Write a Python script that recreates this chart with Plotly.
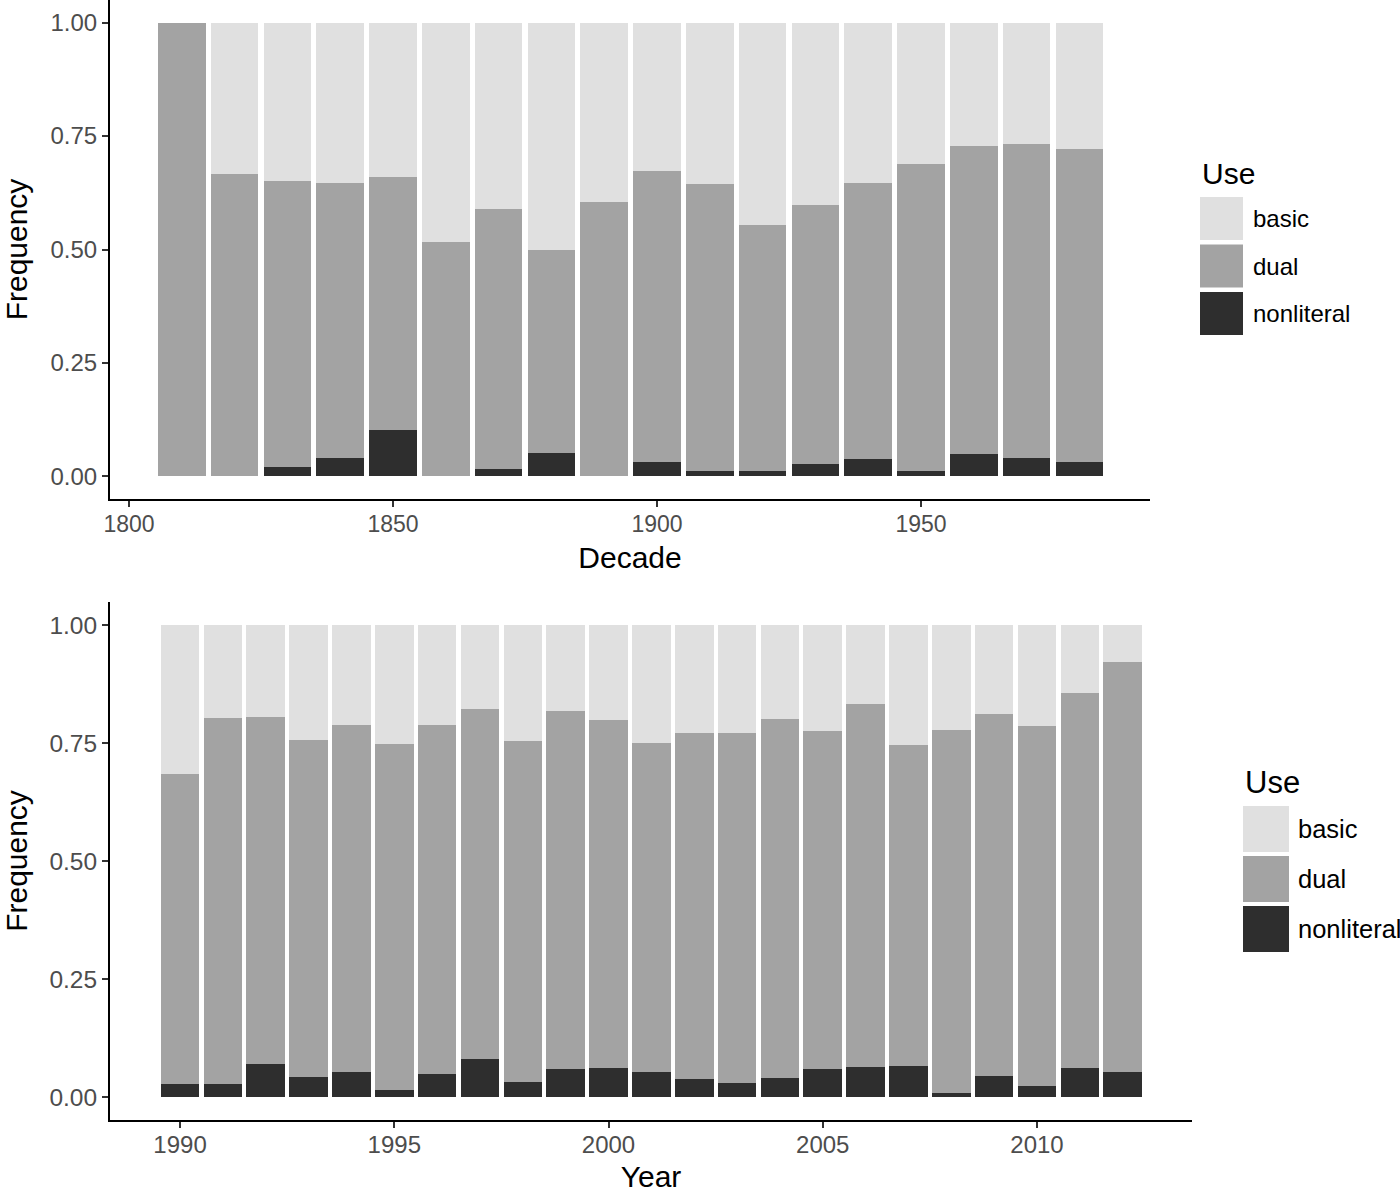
import plotly.graph_objects as go

# ---------------- data ----------------
decades = [1810, 1820, 1830, 1840, 1850, 1860, 1870, 1880, 1890,
           1900, 1910, 1920, 1930, 1940, 1950, 1960, 1970, 1980]
dec_nonliteral = [0.000, 0.000, 0.022, 0.041, 0.102, 0.000, 0.016, 0.052, 0.000,
                  0.033, 0.013, 0.013, 0.028, 0.038, 0.012, 0.050, 0.040, 0.033]
dec_dual = [1.000, 0.667, 0.630, 0.605, 0.558, 0.517, 0.574, 0.448, 0.605,
            0.639, 0.631, 0.541, 0.569, 0.608, 0.676, 0.678, 0.693, 0.689]
dec_basic = [0.000, 0.333, 0.348, 0.354, 0.340, 0.483, 0.410, 0.500, 0.395,
             0.328, 0.356, 0.446, 0.403, 0.354, 0.312, 0.272, 0.267, 0.278]

years = list(range(1990, 2013))
yr_nonliteral = [0.028, 0.027, 0.071, 0.042, 0.054, 0.015, 0.048, 0.081, 0.031, 0.060,
                 0.062, 0.053, 0.039, 0.030, 0.040, 0.059, 0.063, 0.066, 0.008, 0.044,
                 0.023, 0.061, 0.052]
yr_dual = [0.657, 0.775, 0.734, 0.714, 0.734, 0.732, 0.740, 0.740, 0.723, 0.758,
           0.736, 0.697, 0.732, 0.742, 0.760, 0.717, 0.769, 0.680, 0.770, 0.767,
           0.762, 0.795, 0.869]
yr_basic = [0.315, 0.198, 0.195, 0.244, 0.212, 0.253, 0.212, 0.179, 0.246, 0.182,
            0.202, 0.250, 0.229, 0.228, 0.200, 0.224, 0.168, 0.254, 0.222, 0.189,
            0.215, 0.144, 0.079]

use_levels = ["basic", "dual", "nonliteral"]
use_colors = {"basic": "#e0e0e0", "dual": "#a3a3a3", "nonliteral": "#2e2e2e"}

dec_ticks = [1800, 1850, 1900, 1950]
yr_ticks = [1990, 1995, 2000, 2005, 2010]
freq_ticks = [0, 0.25, 0.5, 0.75, 1.0]
freq_labels = ["0.00", "0.25", "0.50", "0.75", "1.00"]

W, H = 1400, 1193
FONT = "Liberation Sans, Arial, Helvetica, sans-serif"

fig = go.Figure()

top_series = {"nonliteral": dec_nonliteral, "dual": dec_dual, "basic": dec_basic}
bot_series = {"nonliteral": yr_nonliteral, "dual": yr_dual, "basic": yr_basic}

for name in ["nonliteral", "dual", "basic"]:
    fig.add_trace(go.Bar(x=decades, y=top_series[name], name=name, width=9,
                         marker=dict(color=use_colors[name], line=dict(width=0)),
                         xaxis="x", yaxis="y", showlegend=False))
for name in ["nonliteral", "dual", "basic"]:
    fig.add_trace(go.Bar(x=years, y=bot_series[name], name=name, width=0.9,
                         marker=dict(color=use_colors[name], line=dict(width=0)),
                         xaxis="x2", yaxis="y2", showlegend=False))

def px_x(p):
    return p / W

def px_y(p):
    return 1 - p / H

axis_common = dict(showline=True, linecolor="black", linewidth=2, ticks="outside",
                   ticklen=6, tickwidth=2, tickcolor="#333333", showgrid=False,
                   zeroline=False, automargin=False)

fig.update_layout(
    width=W, height=H, barmode="stack", bargap=0,
    margin=dict(l=0, r=0, t=0, b=0),
    paper_bgcolor="white", plot_bgcolor="white",
    font=dict(family=FONT, color="black"),
    xaxis=dict(domain=[px_x(110), px_x(1150)], range=[1796.4, 1993.37], anchor="y",
               tickvals=dec_ticks, ticktext=[str(t) for t in dec_ticks],
               tickfont=dict(size=23, color="#4d4d4d"), ticklabelstandoff=-3,
               title=dict(text="Decade", font=dict(size=30, color="black"), standoff=11),
               **axis_common),
    yaxis=dict(domain=[px_y(499), 1.0], range=[-0.0496, 1.0496], anchor="x",
               tickvals=freq_ticks, ticktext=freq_labels,
               tickfont=dict(size=24, color="#4d4d4d"),
               title=dict(text="Frequency", font=dict(size=30, color="black"), standoff=14),
               **axis_common),
    xaxis2=dict(domain=[px_x(110), px_x(1192)], range=[1988.366, 2013.617], anchor="y2",
                tickvals=yr_ticks, ticktext=[str(t) for t in yr_ticks],
                tickfont=dict(size=24, color="#4d4d4d"), ticklabelstandoff=-4,
                title=dict(text="Year", font=dict(size=30, color="black"), standoff=19),
                **axis_common),
    yaxis2=dict(domain=[px_y(1120), px_y(602)], range=[-0.0487, 1.0487], anchor="x2",
                tickvals=freq_ticks, ticktext=freq_labels,
                tickfont=dict(size=24.5, color="#4d4d4d"),
                title=dict(text="Frequency", font=dict(size=30, color="black"), standoff=14),
                **axis_common),
)

# ---------------- legends (ggplot-style key boxes) ----------------
def add_legend(x0, title_y, first_top, key, step, label_x, label_size, title_size):
    fig.add_annotation(x=px_x(x0), y=px_y(title_y), xref="paper", yref="paper",
                       text="Use", showarrow=False, xanchor="left", yanchor="middle",
                       font=dict(size=title_size, color="black", family=FONT))
    for i, lvl in enumerate(use_levels):
        top = first_top + i * step
        fig.add_shape(type="rect", xref="paper", yref="paper",
                      x0=px_x(x0), x1=px_x(x0 + key), y0=px_y(top + key), y1=px_y(top),
                      fillcolor=use_colors[lvl], line=dict(width=0))
        fig.add_annotation(x=px_x(label_x), y=px_y(top + key / 2), xref="paper", yref="paper",
                           text=lvl, showarrow=False, xanchor="left", yanchor="middle",
                           font=dict(size=label_size, color="black", family=FONT))

add_legend(1200, 173, 197, 43, 47.5, 1251, 24, 30)
add_legend(1243, 782, 806, 46, 50, 1296, 25.5, 31)

fig.write_html("out.html", config={"displayModeBar": False},
               post_script="document.body.style.margin='0px';document.body.style.overflow='hidden';")
